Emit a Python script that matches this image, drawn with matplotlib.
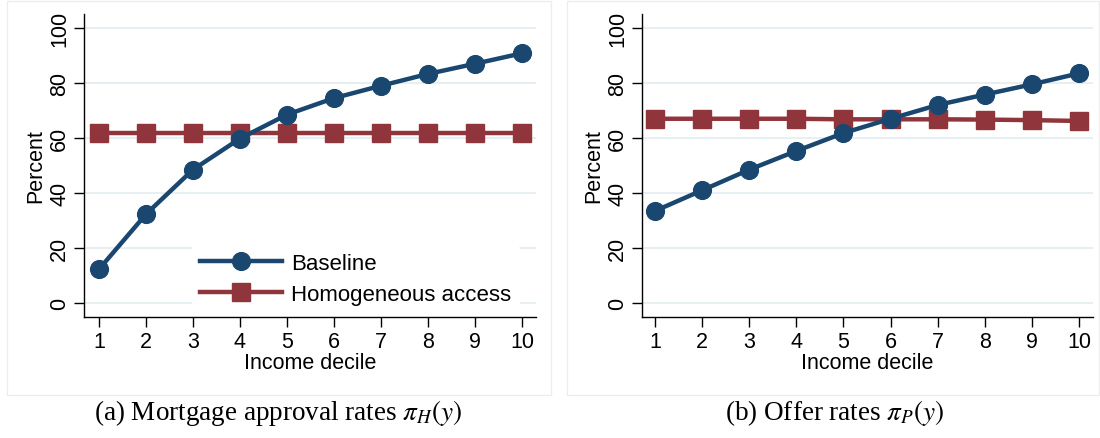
import matplotlib
matplotlib.use("Agg")
import matplotlib.pyplot as plt
from matplotlib.patches import Rectangle

deciles = [1, 2, 3, 4, 5, 6, 7, 8, 9, 10]
approval_baseline = [12.3, 32.3, 48.5, 59.8, 68.5, 74.5, 79.0, 83.3, 87.0, 90.8]
approval_homog = [62.0, 62.0, 62.0, 62.0, 62.0, 62.0, 62.0, 62.0, 62.0, 62.0]
offer_baseline = [33.5, 41.0, 48.5, 55.3, 61.8, 67.0, 72.0, 75.8, 79.5, 83.5]
offer_homog = [67.0, 67.0, 67.0, 67.0, 66.8, 66.8, 66.8, 66.7, 66.5, 66.2]
yticks = [0, 20, 40, 60, 80, 100]
captions = [r"(a) Mortgage approval rates $\pi_H(y)$", r"(b) Offer rates $\pi_P(y)$"]

plt.rcParams['font.family'] = ['Liberation Sans', 'DejaVu Sans']
plt.rcParams['mathtext.fontset'] = 'stix'

NAVY = '#1a476f'
MAROON = '#90353b'
GRID = '#e6eef1'
FS = 15.5

fig = plt.figure(figsize=(11, 4.39), dpi=100)

def setup(ax, xl):
    ax.set_xlim(*xl)
    ax.set_ylim(-5.1, 105.1)
    ax.set_xticks(deciles)
    ax.set_yticks(yticks)
    ax.set_yticklabels([str(t) for t in yticks], rotation=90, va='center')
    for s in ['top', 'right']:
        ax.spines[s].set_visible(False)
    for s in ['left', 'bottom']:
        ax.spines[s].set_linewidth(1.0)
    ax.tick_params(axis='both', length=7, width=1, labelsize=FS, pad=3)
    ax.grid(axis='y', color=GRID, linewidth=1.3)
    ax.set_axisbelow(True)
    ax.set_xlabel("Income decile", fontsize=FS, labelpad=0)
    ax.set_ylabel("Percent", fontsize=FS, labelpad=2)

H = 439.0
W = 1100.0
ax1 = fig.add_axes([84/W, 1-318/H, (536-84)/W, (318-15)/H])
ax2 = fig.add_axes([642/W, 1-318/H, (1093-642)/W, (318-15)/H])
setup(ax1, (0.68, 10.3))
setup(ax2, (0.72, 10.3))

for ax, b, h in [(ax1, approval_baseline, approval_homog), (ax2, offer_baseline, offer_homog)]:
    ax.plot(deciles, h, color=MAROON, lw=3.2, marker='s', markersize=12.5, zorder=3,
            label="Homogeneous access", clip_on=False)
    ax.plot(deciles, b, color=NAVY, lw=3.2, marker='o', markersize=12.8, zorder=4,
            label="Baseline", clip_on=False)

handles, labels = ax1.get_legend_handles_labels()
leg = ax1.legend(handles[::-1], labels[::-1], loc='lower left',
                 bbox_to_anchor=((192 - 84) / (536 - 84), (318 - 314) / (318 - 15)),
                 frameon=True, fontsize=16, handlelength=3.7, handletextpad=0.4,
                 labelspacing=0.45, borderpad=0.35, borderaxespad=0)
leg.get_frame().set_facecolor('white')
leg.get_frame().set_edgecolor('white')
leg.get_frame().set_alpha(1)

# faint panel borders
fig.patches.append(Rectangle((7/W, 1-396/H), (551-7)/W, 394/H, transform=fig.transFigure,
                             fill=False, edgecolor='#ededed', lw=1))
fig.patches.append(Rectangle((567/W, 1-396/H), (1099-567)/W, 394/H, transform=fig.transFigure,
                             fill=False, edgecolor='#ededed', lw=1))

fig.text(278/W, 1-413/H, captions[0], ha='center', va='center', fontsize=19.5, family='Liberation Serif')
fig.text(835/W, 1-413/H, captions[1], ha='center', va='center', fontsize=19.5, family='Liberation Serif')

fig.savefig("out.png", dpi=100)
